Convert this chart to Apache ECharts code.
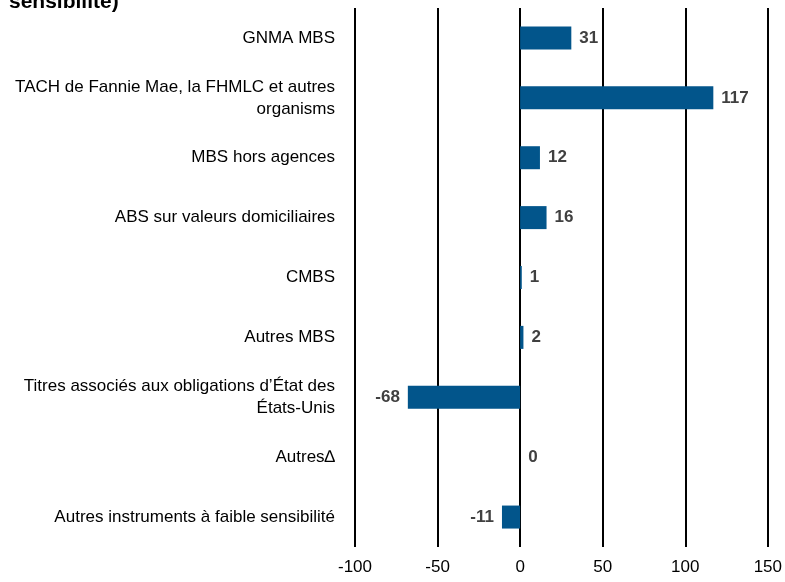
<!DOCTYPE html>
<html>
<head>
<meta charset="utf-8">
<script src="https://cdn.jsdelivr.net/npm/echarts@6/dist/echarts.min.js"></script>
<style>
  html, body { margin: 0; padding: 0; background: #fff; }
  #chart { width: 785px; height: 582px; }
</style>
</head>
<body>
<div id="chart"></div>
<script>
  const categories = [
    'GNMA MBS',
    'TACH de Fannie Mae, la FHMLC et autres\norganisms',
    'MBS hors agences',
    'ABS sur valeurs domiciliaires',
    'CMBS',
    'Autres MBS',
    'Titres associés aux obligations d’État des\nÉtats-Unis',
    'Autres∆',
    'Autres instruments à faible sensibilité'
  ]
  const values = [31, 117, 12, 16, 1, 2, -68, 0, -11]
  const barColor = '#02558b'

  const chart = echarts.init(document.getElementById('chart'))
  chart.setOption({
    animation: false,
    title: {
      text: 'sensibilité)',
      left: 4,
      top: -13,
      textStyle: { fontFamily: 'Liberation Sans', fontWeight: 'bold', fontSize: 21, color: '#000' }
    },
    grid: { left: 355, right: 16, top: 8, bottom: 35 },
    xAxis: {
      type: 'value',
      min: -100,
      max: 150,
      interval: 50,
      axisLine: { show: false },
      axisTick: { show: false },
      axisLabel: { color: '#000', fontFamily: 'Liberation Sans', fontSize: 17, margin: 12 },
      splitLine: { lineStyle: { color: '#000', width: 2 } }
    },
    yAxis: {
      type: 'category',
      inverse: true,
      data: categories,
      axisLine: { show: false },
      axisTick: { show: false },
      axisLabel: {
        color: '#000',
        fontFamily: 'Liberation Sans',
        fontSize: 17,
        lineHeight: 22,
        margin: 20,
        align: 'right'
      }
    },
    series: [{
      type: 'bar',
      data: values.map(v => ({
        value: v,
        label: { position: v < 0 ? 'left' : 'right' }
      })),
      barWidth: 23,
      itemStyle: { color: barColor },
      label: {
        show: true,
        distance: 8,
        color: '#404040',
        fontWeight: 'bold',
        fontFamily: 'Liberation Sans',
        fontSize: 17
      }
    }]
  })
</script>
</body>
</html>
